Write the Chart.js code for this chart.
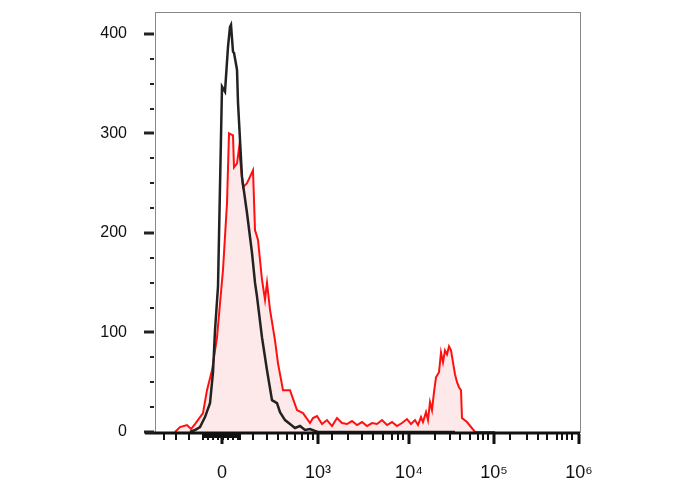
<!DOCTYPE html>
<html>
<head>
<meta charset="utf-8">
<script src="https://cdn.jsdelivr.net/npm/chart.js@4"></script>
<style>
  html, body { margin: 0; padding: 0; background: #fff; }
  #wrap { width: 688px; height: 490px; }
</style>
</head>
<body>
<div id="wrap"><canvas id="hist" width="688" height="490"></canvas></div>
<script>
// channel positions on the display axis (biexponential scale, 0..425)
const blackChannels = [35, 40, 45, 50, 55, 58, 60, 63, 67, 70, 73, 75, 76, 78, 79, 82, 83, 87, 92, 97, 100, 102, 107, 112, 117, 122, 125, 130, 135, 140, 145, 150, 155, 160, 163, 170, 200, 250, 300];
const blackCounts   = [0, 2, 5, 15, 29, 60, 102, 146, 347, 342, 387, 407, 409, 382, 381, 364, 331, 256, 220, 180, 150, 136, 95, 62, 32, 29, 20, 12, 8, 4, 6, 2, 3, 1, 0, 0, 0, 0, 0];
const redChannels = [20, 25, 32, 36, 40, 48, 52, 57, 62, 68, 72, 74, 78, 79, 82, 84, 88, 92, 98, 100, 103, 107, 110, 112, 115, 120, 123, 128, 135, 142, 148, 155, 158,
  162, 167, 172, 177, 182, 187, 192, 197, 202, 207, 212, 217, 222, 227, 232, 237, 242, 247, 252, 256, 260, 263, 266, 268, 271, 273, 275, 277, 279, 281, 284,
  286, 288, 290, 292, 294, 296, 298, 300, 302, 304, 306, 307, 312, 320, 340];
const redCounts = [0, 5, 7, 3, 8, 19, 42, 62, 95, 163, 230, 300, 298, 266, 270, 285, 246, 250, 263, 203, 193, 153, 133, 150, 123, 92, 69, 42, 42, 22, 19, 9, 14,
  16, 8, 12, 6, 14, 9, 8, 11, 7, 10, 6, 9, 8, 12, 7, 10, 6, 9, 13, 8, 12, 7, 15, 10, 20, 12, 30, 22, 40, 55,
  60, 80, 70, 82, 78, 86, 82, 70, 58, 50, 45, 42, 14, 10, 0, 0];
const yMax = 422;
const yTicks = [0, 100, 200, 300, 400];
const majorX = [67, 163, 254, 339, 424];
const majorLabels = ["0", "10³", "10⁴", "10⁵", "10⁶"];
const minorX = [9, 21, 34, 48, 53, 58, 63, 68, 73, 78, 83, 85, 98, 112, 123, 132, 140, 147, 153, 158, 177, 193, 207, 218, 228, 237, 243, 248, 280, 295, 305,
  315, 323, 328, 333, 355, 372, 383, 392, 402, 407, 412, 417];

const toPts = (xs, ys) => xs.map((x, i) => ({ x, y: ys[i] }));

const axisDecor = {
  id: "axisDecor",
  afterDraw(chart) {
    const { ctx, chartArea: a, scales } = chart;
    ctx.save();
    ctx.strokeStyle = "#888";
    ctx.lineWidth = 1;
    ctx.strokeRect(a.left + 0.5, a.top + 0.5, a.right - a.left, a.bottom - a.top);
    ctx.strokeStyle = "#111";
    ctx.lineWidth = 3;
    ctx.beginPath();
    ctx.moveTo(a.left - 10, a.bottom + 1);
    ctx.lineTo(a.right, a.bottom + 1);
    ctx.stroke();
    ctx.lineWidth = 2;
    ctx.beginPath();
    minorX.forEach(v => {
      const p = Math.round(scales.x.getPixelForValue(v));
      ctx.moveTo(p, a.bottom + 2); ctx.lineTo(p, a.bottom + 8);
    });
    ctx.stroke();
    ctx.lineWidth = 3;
    ctx.beginPath();
    majorX.forEach(v => {
      const p = Math.round(scales.x.getPixelForValue(v));
      ctx.moveTo(p, a.bottom + 2); ctx.lineTo(p, a.bottom + 12);
    });
    ctx.stroke();
    ctx.fillStyle = "#111";
    ctx.fillRect(scales.x.getPixelForValue(48), a.bottom + 2, scales.x.getPixelForValue(85) - scales.x.getPixelForValue(48), 4);
    ctx.strokeStyle = "#222";
    for (let v = 0; v <= 420; v += 25) {
      const p = Math.round(scales.y.getPixelForValue(v));
      const major = v % 100 === 0;
      ctx.lineWidth = major ? 3 : 2;
      ctx.beginPath();
      ctx.moveTo(a.left - (major ? 11 : 5), p); ctx.lineTo(a.left - 1, p);
      ctx.stroke();
    }
    ctx.restore();
  }
};

new Chart(document.getElementById("hist"), {
  type: "line",
  data: {
    datasets: [
      {
        data: toPts(blackChannels, blackCounts),
        borderColor: "#222",
        borderWidth: 2.5,
        fill: false,
        pointRadius: 0,
        tension: 0
      },
      {
        data: toPts(redChannels, redCounts),
        borderColor: "#ff1010",
        backgroundColor: "rgba(250,200,200,0.4)",
        borderWidth: 2,
        fill: "origin",
        pointRadius: 0,
        tension: 0
      }
    ]
  },
  options: {
    responsive: false,
    animation: false,
    layout: { padding: { top: 12, right: 108, left: 0, bottom: 0 } },
    plugins: { legend: { display: false }, tooltip: { enabled: false } },
    scales: {
      x: {
        type: "linear",
        min: 0,
        max: 425,
        afterBuildTicks: s => { s.ticks = majorX.map(v => ({ value: v })); },
        afterFit: s => { s.height = 58; s.paddingLeft = 0; s.paddingRight = 0; },
        grid: { display: false },
        border: { display: false },
        ticks: {
          padding: 22,
          maxRotation: 0,
          autoSkip: false,
          color: "#111",
          font: { family: "Liberation Sans", size: 18 },
          callback: (v) => majorLabels[majorX.indexOf(v)]
        }
      },
      y: {
        min: 0,
        max: yMax,
        afterBuildTicks: s => { s.ticks = yTicks.map(v => ({ value: v })); },
        afterFit: s => { s.width = 155; s.paddingTop = 0; s.paddingBottom = 0; },
        grid: { display: false },
        border: { display: false },
        ticks: {
          padding: 20,
          color: "#111",
          font: { family: "Liberation Sans", size: 16 }
        }
      }
    }
  },
  plugins: [axisDecor]
});
</script>
</body>
</html>
